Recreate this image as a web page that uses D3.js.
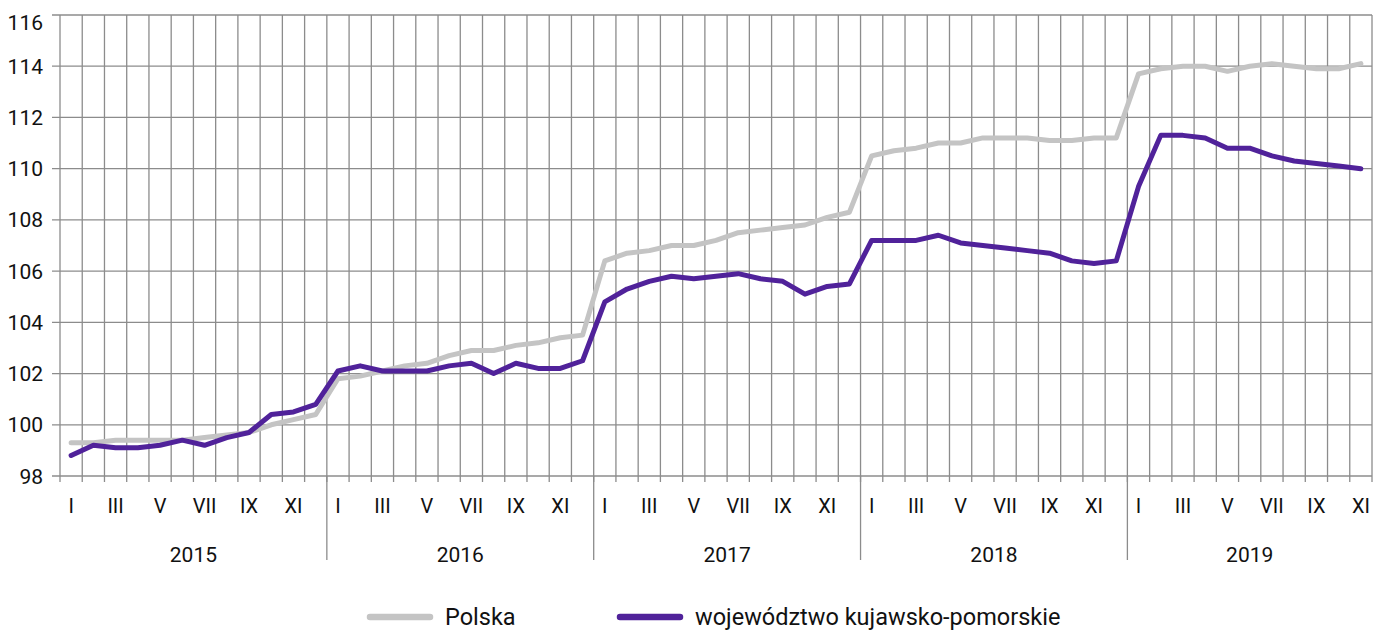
<!DOCTYPE html>
<html>
<head>
<meta charset="utf-8">
<script src="https://cdn.jsdelivr.net/npm/d3@7"></script>
<style>
  body { margin: 0; background: #fff; }
  svg { display: block; font-family: Roboto, "Noto Sans", sans-serif; }
</style>
</head>
<body>
<div class="canvas"></div>
<script>
// data
const years = ['2015', '2016', '2017', '2018', '2019'];
const monthNames = ['I', 'II', 'III', 'IV', 'V', 'VI', 'VII', 'VIII', 'IX', 'X', 'XI', 'XII'];
const yTicks = [98, 100, 102, 104, 106, 108, 110, 112, 114, 116];

const polska = [
    99.3, 99.3, 99.4, 99.4, 99.4, 99.4, 99.5, 99.6, 99.7, 100.0, 100.2, 100.4,
    101.8, 101.9, 102.1, 102.3, 102.4, 102.7, 102.9, 102.9, 103.1, 103.2, 103.4, 103.5,
    106.4, 106.7, 106.8, 107.0, 107.0, 107.2, 107.5, 107.6, 107.7, 107.8, 108.1, 108.3,
    110.5, 110.7, 110.8, 111.0, 111.0, 111.2, 111.2, 111.2, 111.1, 111.1, 111.2, 111.2,
    113.7, 113.9, 114.0, 114.0, 113.8, 114.0, 114.1, 114.0, 113.9, 113.9, 114.1
];
const kujawsko = [
    98.8, 99.2, 99.1, 99.1, 99.2, 99.4, 99.2, 99.5, 99.7, 100.4, 100.5, 100.8,
    102.1, 102.3, 102.1, 102.1, 102.1, 102.3, 102.4, 102.0, 102.4, 102.2, 102.2, 102.5,
    104.8, 105.3, 105.6, 105.8, 105.7, 105.8, 105.9, 105.7, 105.6, 105.1, 105.4, 105.5,
    107.2, 107.2, 107.2, 107.4, 107.1, 107.0, 106.9, 106.8, 106.7, 106.4, 106.3, 106.4,
    109.3, 111.3, 111.3, 111.2, 110.8, 110.8, 110.5, 110.3, 110.2, 110.1, 110.0
];

const series = [
    { name: 'Polska', values: polska, color: '#c4c4c4' },
    { name: 'województwo kujawsko-pomorskie', values: kujawsko, color: '#50229a' }
];

// month periods: index -> {year, month}
const periods = polska.map((v, i) => ({ index: i, year: years[Math.floor(i / 12)], month: i % 12 }));

const dims = { width: 1375, height: 632 };
const plot = { left: 60, right: 1372, top: 15, bottom: 476 };
const gridColor = '#8c8c8c';
const textColor = '#111';

const svg = d3.select('.canvas')
    .append('svg')
    .attr('width', dims.width)
    .attr('height', dims.height);

const x = d3.scaleBand()
    .domain(periods.map(p => p.index))
    .range([plot.left, plot.right])
    .padding(0);

const y = d3.scaleLinear()
    .domain([98, 116])
    .range([plot.bottom, plot.top]);

const cx = i => x(i) + x.bandwidth() / 2;

// grid
const grid = svg.append('g');

grid.selectAll('line.h')
    .data(yTicks)
    .enter().append('line')
    .attr('class', 'h')
    .attr('x1', plot.left - 8)
    .attr('x2', plot.right)
    .attr('y1', d => y(d))
    .attr('y2', d => y(d))
    .attr('stroke', gridColor)
    .attr('stroke-width', 1.3);

const vLines = periods.map(p => x(p.index)).concat([plot.right]);

grid.selectAll('line.v')
    .data(vLines)
    .enter().append('line')
    .attr('class', 'v')
    .attr('x1', d => d)
    .attr('x2', d => d)
    .attr('y1', plot.top)
    .attr('y2', plot.bottom + 6)
    .attr('stroke', gridColor)
    .attr('stroke-width', 1.3);

// year separators
grid.selectAll('line.year')
    .data(years.slice(1))
    .enter().append('line')
    .attr('class', 'year')
    .attr('x1', (d, i) => x((i + 1) * 12))
    .attr('x2', (d, i) => x((i + 1) * 12))
    .attr('y1', plot.bottom)
    .attr('y2', 560)
    .attr('stroke', gridColor)
    .attr('stroke-width', 1.3);

// y labels (top label sits below its gridline so it isn't clipped)
svg.append('g').selectAll('text')
    .data(yTicks)
    .enter().append('text')
    .attr('x', 43)
    .attr('y', d => y(d))
    .attr('dy', d => d === 116 ? '0.72em' : '0.36em')
    .attr('text-anchor', 'end')
    .attr('font-size', 21)
    .attr('fill', textColor)
    .text(d => d);

// month labels (odd months only)
svg.append('g').selectAll('text')
    .data(periods.filter(p => p.month % 2 === 0))
    .enter().append('text')
    .attr('x', d => cx(d.index))
    .attr('y', 513)
    .attr('text-anchor', 'middle')
    .attr('font-size', 20)
    .attr('fill', textColor)
    .text(d => monthNames[d.month]);

// year labels
svg.append('g').selectAll('text')
    .data(years)
    .enter().append('text')
    .attr('x', (d, i) => {
        const first = i * 12;
        const last = Math.min(first + 11, periods.length - 1);
        return (x(first) + x(last) + x.bandwidth()) / 2;
    })
    .attr('y', 562)
    .attr('text-anchor', 'middle')
    .attr('font-size', 21)
    .attr('fill', textColor)
    .text(d => d);

// lines
const line = d3.line()
    .x((d, i) => cx(i))
    .y(d => y(d));

svg.append('g').selectAll('path')
    .data(series)
    .enter().append('path')
    .attr('d', d => line(d.values))
    .attr('fill', 'none')
    .attr('stroke', d => d.color)
    .attr('stroke-width', 5)
    .attr('stroke-linejoin', 'round')
    .attr('stroke-linecap', 'round');

// legend
const legendX = [367, 617];
const legend = svg.append('g').selectAll('g')
    .data(series)
    .enter().append('g')
    .attr('transform', (d, i) => `translate(${legendX[i]}, 617)`);

legend.append('line')
    .attr('x1', 3)
    .attr('x2', 63)
    .attr('stroke', d => d.color)
    .attr('stroke-width', 6.5)
    .attr('stroke-linecap', 'round');

legend.append('text')
    .attr('x', 78)
    .attr('y', 8)
    .attr('font-size', 23.5)
    .attr('fill', textColor)
    .text(d => d.name);
</script>
</body>
</html>
